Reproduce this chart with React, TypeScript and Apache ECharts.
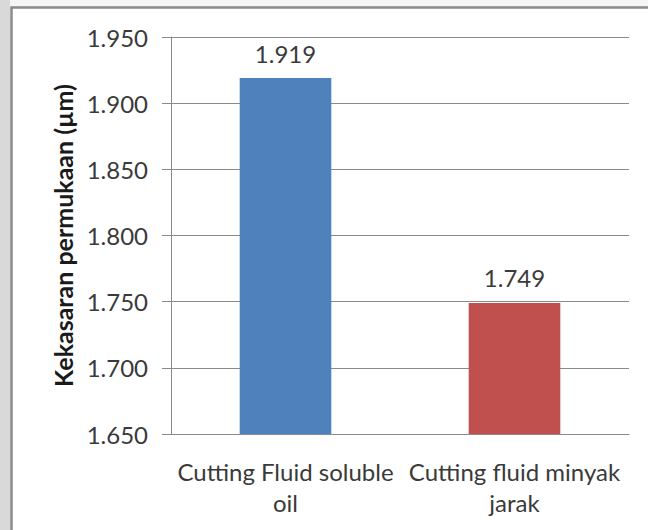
import React, { useEffect, useRef } from "react";
import * as echarts from "echarts";

// Surface roughness per cutting fluid
const categories = ["Cutting Fluid soluble\noil", "Cutting fluid minyak\njarak"];
const roughness = [1.919, 1.749];
const barColors = ["#4F81BD", "#C0504D"];
const yTicks = { min: 1.65, max: 1.95, step: 0.05 };

const FONT = "Lato";
const TEXT = "#3a3a3a";
const LINE = "#8a8a8a";

export default function App() {
  const ref = useRef<HTMLDivElement>(null);

  useEffect(() => {
    if (!ref.current) return;
    const chart = echarts.init(ref.current, undefined, { renderer: "svg" });
    chart.setOption({
      animation: false,
      backgroundColor: "#f6f6f6",
      textStyle: { fontFamily: FONT },
      graphic: [
        {
          type: "rect",
          z: -10,
          silent: true,
          shape: { x: 0, y: 0, width: 10, height: 530 },
          style: { fill: "#d9d9d9" },
        },
        {
          type: "rect",
          z: -10,
          silent: true,
          shape: { x: 11.5, y: 7.5, width: 700, height: 600 },
          style: { fill: "#ffffff", stroke: LINE, lineWidth: 2.5 },
        },
      ],
      grid: { left: 171, top: 37, right: 19, bottom: 96, containLabel: false },
      xAxis: {
        type: "category",
        data: categories,
        axisLine: { show: true, lineStyle: { color: LINE, width: 1 } },
        axisTick: { show: false },
        axisLabel: {
          color: TEXT,
          fontFamily: FONT,
          fontSize: 24,
          lineHeight: 31,
          margin: 22,
          interval: 0,
        },
      },
      yAxis: {
        type: "value",
        min: yTicks.min,
        max: yTicks.max,
        interval: yTicks.step,
        name: "Kekasaran permukaan (µm)",
        nameLocation: "middle",
        nameGap: 95,
        nameTextStyle: {
          color: "#1a1a1a",
          fontFamily: FONT,
          fontSize: 25,
          fontWeight: "bold",
        },
        axisLine: { show: true, lineStyle: { color: LINE, width: 1 } },
        axisTick: { show: true, length: 9, lineStyle: { color: LINE } },
        splitLine: { show: true, lineStyle: { color: LINE, width: 1 } },
        axisLabel: {
          color: TEXT,
          fontFamily: FONT,
          fontSize: 24,
          margin: 23,
          formatter: (v: number) => v.toFixed(3),
        },
      },
      series: [
        {
          type: "bar",
          barWidth: "40%",
          data: roughness.map((v, i) => ({
            value: v,
            itemStyle: { color: barColors[i] },
          })),
          label: {
            show: true,
            position: "top",
            distance: 13,
            color: TEXT,
            fontFamily: FONT,
            fontSize: 24,
            formatter: (p: any) => Number(p.value).toFixed(3),
          },
        },
      ],
    });
    return () => chart.dispose();
  }, []);

  return (
    <div
      ref={ref}
      style={{ position: "fixed", left: 0, top: 0, width: 648, height: 530 }}
    />
  );
}
